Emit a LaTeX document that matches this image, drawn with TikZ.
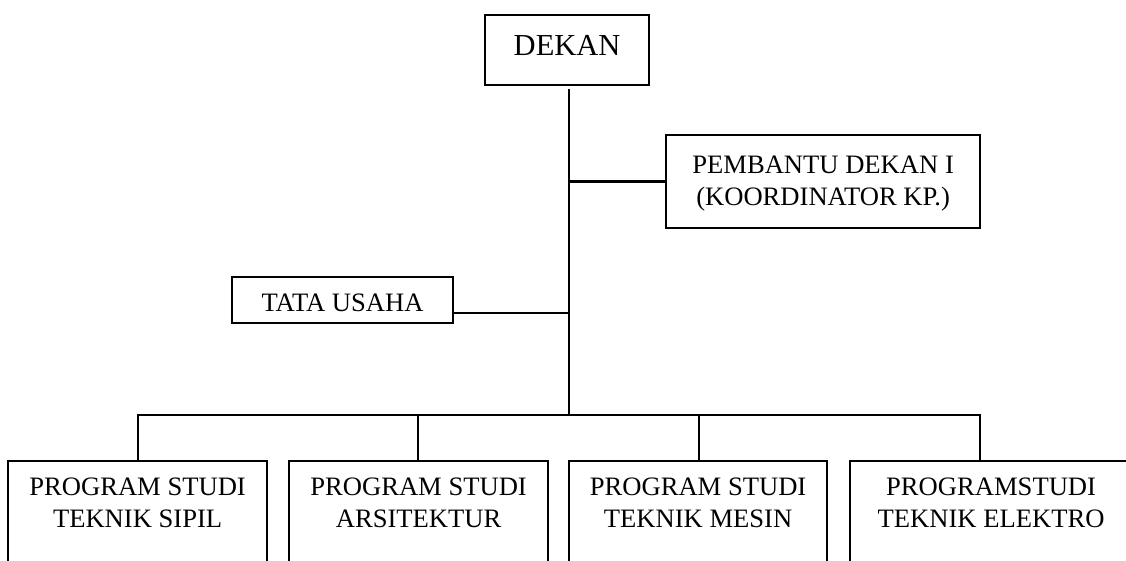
\documentclass[tikz,border=0pt]{standalone}
\usepackage{fontspec}
\setmainfont{Liberation Serif}
\tikzset{
  box/.style={draw, line width=2.2pt, inner sep=0pt, align=center, font=\fontsize{26.6}{32}\selectfont},
  prodi/.style={box, anchor=north west, text height=66pt, text depth=108pt},
  edge/.style={line width=2.2pt}
}

\begin{document}
\begin{tikzpicture}[x=1pt,y=-1pt]
  \useasboundingbox (0,0) rectangle (1126,561);
  % Define the boxes
  \node[box, anchor=north west, minimum width=164pt, text height=40pt, text depth=30pt, font=\fontsize{30.5}{36}\selectfont] (1) at (484,14) {DEKAN};
  \node[box, anchor=north west, minimum width=314pt, text height=70pt, text depth=23pt] (2) at (665,134) {PEMBANTU DEKAN I\\(KOORDINATOR KP.)};
  \node[box, anchor=north west, minimum width=221pt, text height=34pt, text depth=12pt] (3) at (231,276) {TATA USAHA};
  \node[prodi, minimum width=259pt] (4) at (7,460) {PROGRAM STUDI\\TEKNIK SIPIL};
  \node[prodi, minimum width=259pt] (5) at (288,460) {PROGRAM STUDI\\ARSITEKTUR};
  \node[prodi, minimum width=258pt] (6) at (568,460) {PROGRAM STUDI\\TEKNIK MESIN};
  \node[prodi, minimum width=282pt] (7) at (849,460) {PROGRAMSTUDI\\TEKNIK ELEKTRO};
  % Junction points
  \coordinate (j) at (569,415);
  \coordinate (b1) at (138,415);
  \coordinate (b2) at (418,415);
  \coordinate (b3) at (699,415);
  \coordinate (b4) at (980,415);
  % Draw the edges
  \draw[edge] ([yshift=-3pt]1.south -| j) -- (j);
  \draw[edge] (2.west) -- (2.west -| j);
  \draw[edge] ([yshift=11pt]3.south east) -- ([yshift=11pt]3.south east -| j);
  \draw[edge] (b1 |- 4.north) -- (b1) -- (b4) -- (b4 |- 7.north);
  \draw[edge] (b2) -- (b2 |- 5.north);
  \draw[edge] (b3) -- (b3 |- 6.north);
\end{tikzpicture}
\end{document}
